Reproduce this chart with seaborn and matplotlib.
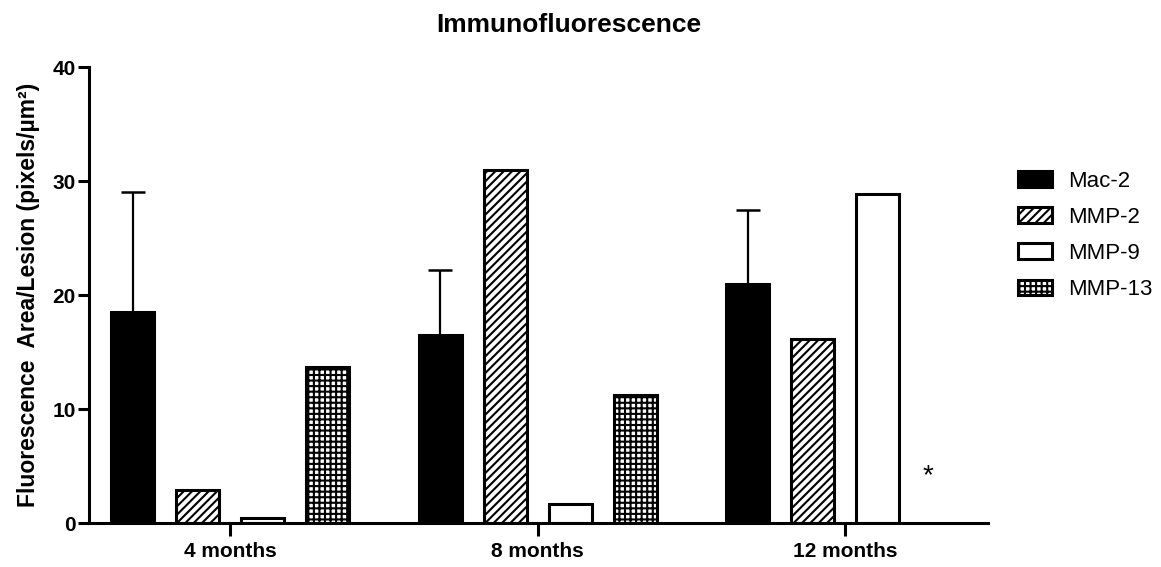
import numpy as np
import pandas as pd
import matplotlib
matplotlib.use("Agg")
import matplotlib.pyplot as plt
import seaborn as sns
from matplotlib.patches import Patch

months = ["4 months", "8 months", "12 months"]
markers = ["Mac-2", "MMP-2", "MMP-9", "MMP-13"]
mac2 = [18.5, 16.5, 21.0]
mmp2 = [2.9, 31.0, 16.1]
mmp9 = [0.4, 1.7, 28.9]
mmp13 = [13.7, 11.2, np.nan]
mac2_err = [10.5, 5.7, 6.5]

colors = {"Mac-2": "black", "MMP-2": "white", "MMP-9": "white", "MMP-13": "white"}
hatches = {"Mac-2": "", "MMP-2": "////", "MMP-9": "", "MMP-13": "+++"}

df = pd.DataFrame({
    "month": months * 4,
    "marker": [m for m in markers for _ in months],
    "value": mac2 + mmp2 + mmp9 + mmp13,
})

sns.set_theme(style="white")
plt.rcParams["font.family"] = ["Liberation Sans", "DejaVu Sans"]
plt.rcParams["hatch.linewidth"] = 1.5
for key in ["text.color", "axes.labelcolor", "xtick.color", "ytick.color"]:
    plt.rcParams[key] = "black"

fig = plt.figure(figsize=(11.61, 5.67), dpi=100)
ax = fig.add_axes([0.0767, 0.0776, 0.7743, 0.8042])

sns.barplot(data=df, x="month", y="value", hue="marker", order=months,
            hue_order=markers, palette=colors, width=0.846, gap=0.34,
            edgecolor="black", linewidth=2.2, legend=False, ax=ax, errorbar=None)

for cont, name in zip(ax.containers, markers):
    for bar in cont:
        bar.set_hatch(hatches[name])
        bar.set_edgecolor("black")

# one-sided error bars on Mac-2
mac_bars = list(ax.containers[0])
xs = [b.get_x() + b.get_width() / 2 for b in mac_bars]
ax.errorbar(xs, mac2, yerr=[np.zeros(len(mac2)), mac2_err], fmt="none",
            ecolor="black", elinewidth=1.6, capsize=8.5, capthick=1.8, zorder=1)

ax.text(2 + 0.27, 4.1, "*", fontsize=20, ha="center", va="center")

ax.set_xlim(-0.459, 2.465)
ax.set_ylim(0, 40)
ax.set_yticks([0, 10, 20, 30, 40])
ax.set_xlabel("")
ax.set_ylabel("Fluorescence  Area/Lesion (pixels/µm²)", fontsize=16.5, fontweight="bold", labelpad=9)
ax.set_title("Immunofluorescence", fontsize=19, fontweight="bold", pad=25, x=0.534)

for s in ["top", "right"]:
    ax.spines[s].set_visible(False)
for s in ["left", "bottom"]:
    ax.spines[s].set_linewidth(2.2)
    ax.spines[s].set_color("black")
ax.tick_params(axis="y", direction="out", length=8, width=2.2, labelsize=15, pad=1.5, left=True)
ax.tick_params(axis="x", direction="out", length=9.5, width=2.2, labelsize=15, pad=4.5, bottom=True)
for lab in ax.get_xticklabels() + ax.get_yticklabels():
    lab.set_fontweight("bold")

handles = [Patch(facecolor=colors[m], edgecolor="black", linewidth=2.2, hatch=hatches[m], label=m)
           for m in markers]
ax.legend(handles=handles, loc="upper left", bbox_to_anchor=(0.8595, 0.734),
          bbox_transform=fig.transFigure, frameon=False, fontsize=16,
          handlelength=1.55, handleheight=0.7, labelspacing=0.68, handletextpad=0.73)

fig.savefig("out.png", dpi=100)
